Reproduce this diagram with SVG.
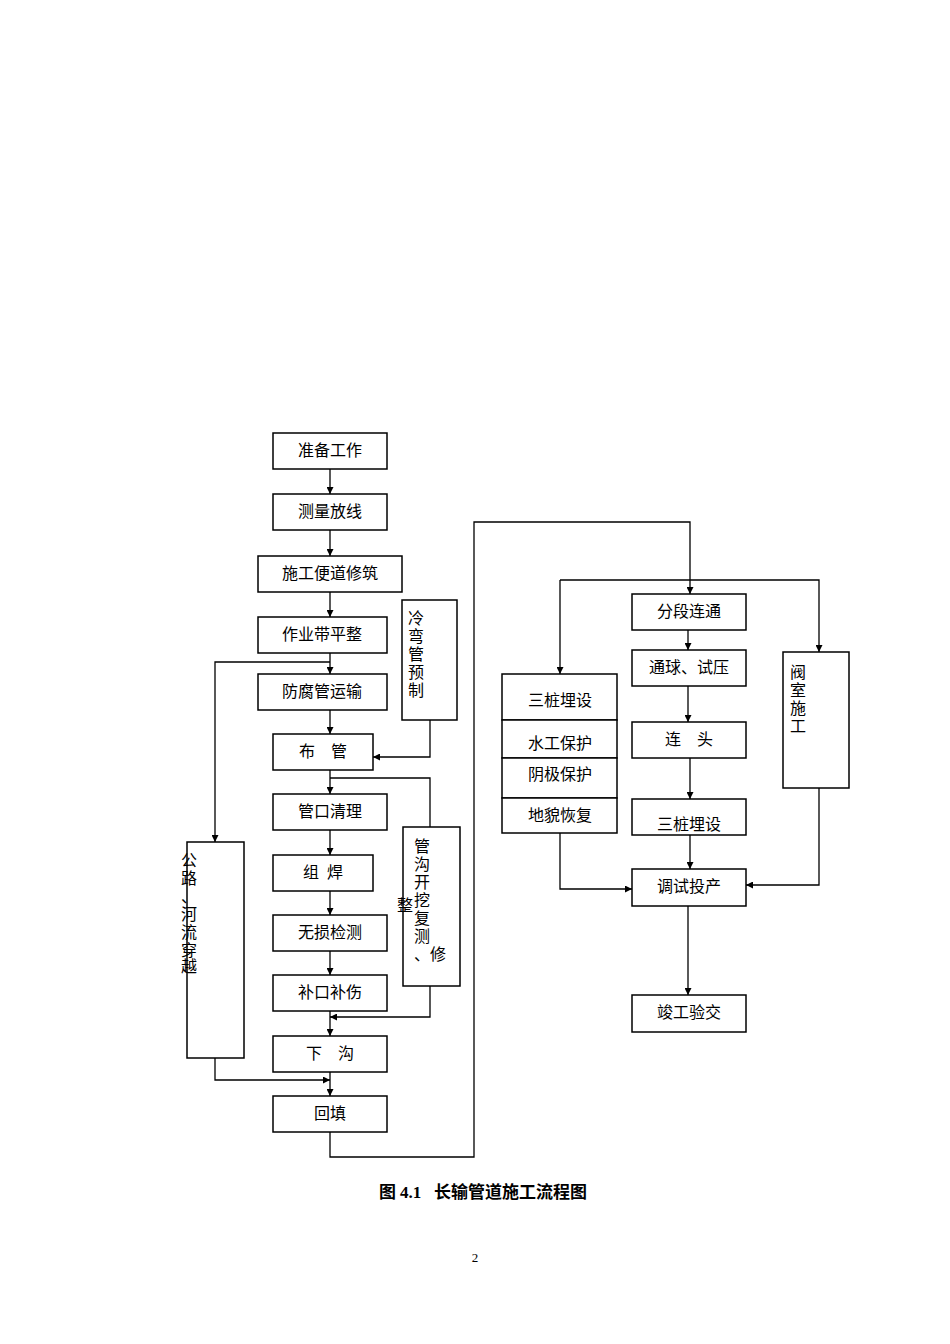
<svg xmlns="http://www.w3.org/2000/svg" width="950" height="1344" viewBox="0 0 950 1344">
<style>
.b{fill:#fff;stroke:#000;stroke-width:1.5}
.t{font-family:"Liberation Serif","Noto Sans CJK SC",serif;font-size:16px;text-anchor:middle}
.v{font-family:"Liberation Serif","Noto Sans CJK SC",serif;font-size:16px}
.c{fill:none;stroke:#000;stroke-width:1.3}
</style>
<defs><marker id="a" viewBox="0 0 10 10" refX="10" refY="5" markerWidth="7" markerHeight="7" orient="auto" markerUnits="userSpaceOnUse"><path d="M0,0L10,5L0,10z"/></marker></defs>
<rect width="950" height="1344" fill="#fff"/>
<g id="connectors" class="c" marker-end="url(#a)">
<path d="M330,469V494"/><path d="M330,530V556"/><path d="M330,592V617"/><path d="M330,653V674"/><path d="M330,710V734"/><path d="M330,770V794"/><path d="M330,830V855"/><path d="M330,891V915"/><path d="M330,951V975"/><path d="M330,1011V1036"/><path d="M330,1072V1096"/>
<path d="M430,720V757H373"/>
<path d="M330,778H430V827" marker-end="none"/>
<path d="M430,986V1017H330"/>
<path d="M330,662H215V842"/>
<path d="M215,1058V1080H330"/>
<path d="M330,1132V1157H474V522H690V594"/>
<path d="M560,580H819V652"/><path d="M560,580V674"/>
<path d="M688,630V650"/><path d="M688,686V722"/><path d="M690,758V799"/><path d="M690,835V869"/><path d="M688,906V995"/>
<path d="M560,833V889H632"/>
<path d="M819,788V885H746"/>
</g>
<g id="n1"><rect class="b" x="273" y="433" width="114" height="36"/><text class="t" x="330" y="456">准备工作</text></g>
<g id="n2"><rect class="b" x="273" y="494" width="114" height="36"/><text class="t" x="330" y="517">测量放线</text></g>
<g id="n3"><rect class="b" x="258" y="556" width="144" height="36"/><text class="t" x="330" y="579">施工便道修筑</text></g>
<g id="n4"><rect class="b" x="258" y="617" width="129" height="36"/><text class="t" x="322" y="640">作业带平整</text></g>
<g id="n5"><rect class="b" x="258" y="674" width="129" height="36"/><text class="t" x="322" y="697">防腐管运输</text></g>
<g id="n6"><rect class="b" x="273" y="734" width="100" height="36"/><text class="t" x="323" y="757" xml:space="preserve">布    管</text></g>
<g id="n7"><rect class="b" x="273" y="794" width="114" height="36"/><text class="t" x="330" y="817">管口清理</text></g>
<g id="n8"><rect class="b" x="273" y="855" width="100" height="36"/><text class="t" x="323" y="878" xml:space="preserve">组  焊</text></g>
<g id="n9"><rect class="b" x="273" y="915" width="114" height="36"/><text class="t" x="330" y="938">无损检测</text></g>
<g id="n10"><rect class="b" x="273" y="975" width="114" height="36"/><text class="t" x="330" y="998">补口补伤</text></g>
<g id="n11"><rect class="b" x="273" y="1036" width="114" height="36"/><text class="t" x="330" y="1059" xml:space="preserve">下    沟</text></g>
<g id="n12"><rect class="b" x="273" y="1096" width="114" height="36"/><text class="t" x="330" y="1119">回填</text></g>
<g id="n13"><rect class="b" x="402" y="600" width="55" height="120"/><text class="v" x="408" y="624">冷</text><text class="v" x="408" y="642">弯</text><text class="v" x="408" y="660">管</text><text class="v" x="408" y="678">预</text><text class="v" x="408" y="696">制</text></g>
<g id="n14"><rect class="b" x="403" y="827" width="57" height="159"/><text class="v" x="414" y="852">管</text><text class="v" x="414" y="870">沟</text><text class="v" x="414" y="888">开</text><text class="v" x="414" y="906">挖</text><text class="v" x="414" y="924">复</text><text class="v" x="414" y="942">测</text><text class="v" x="414" y="960">、修</text><text class="v" x="397" y="911">整</text></g>
<g id="n15"><rect class="b" x="187" y="842" width="57" height="216"/><text class="v" x="181" y="866">公</text><text class="v" x="181" y="884">路</text><text class="v" x="181" y="902">、</text><text class="v" x="181" y="920">河</text><text class="v" x="181" y="938">流</text><text class="v" x="181" y="956">穿</text><text class="v" x="181" y="972">越</text></g>
<g id="n16"><rect class="b" x="632" y="594" width="114" height="36"/><text class="t" x="689" y="617">分段连通</text></g>
<g id="n17"><rect class="b" x="632" y="650" width="114" height="36"/><text class="t" x="689" y="673">通球、试压</text></g>
<g id="n18"><rect class="b" x="632" y="722" width="114" height="36"/><text class="t" x="689" y="745" xml:space="preserve">连    头</text></g>
<g id="n19"><rect class="b" x="632" y="799" width="114" height="36"/><text class="t" x="689" y="830">三桩埋设</text></g>
<g id="n20"><rect class="b" x="632" y="869" width="114" height="37"/><text class="t" x="689" y="892">调试投产</text></g>
<g id="n21"><rect class="b" x="632" y="995" width="114" height="37"/><text class="t" x="689" y="1018">竣工验交</text></g>
<g id="n22"><rect class="b" x="502" y="674" width="115" height="46"/><text class="t" x="560" y="706">三桩埋设</text>
<rect class="b" x="502" y="720" width="115" height="38"/><text class="t" x="560" y="749">水工保护</text>
<rect class="b" x="502" y="758" width="115" height="40"/><text class="t" x="560" y="780">阴极保护</text>
<rect class="b" x="502" y="798" width="115" height="35"/><text class="t" x="560" y="821">地貌恢复</text></g>
<g id="n23"><rect class="b" x="783" y="652" width="66" height="136"/><text class="v" x="790" y="678">阀</text><text class="v" x="790" y="696">室</text><text class="v" x="790" y="714">施</text><text class="v" x="790" y="732">工</text></g>
<text x="483" y="1198" style="font-family:'Liberation Serif','Noto Sans CJK SC',serif;font-size:17px;font-weight:bold;text-anchor:middle" xml:space="preserve">图 4.1   长输管道施工流程图</text>
<text x="475" y="1262" style="font-family:'Liberation Serif',serif;font-size:13px;text-anchor:middle">2</text>
</svg>
